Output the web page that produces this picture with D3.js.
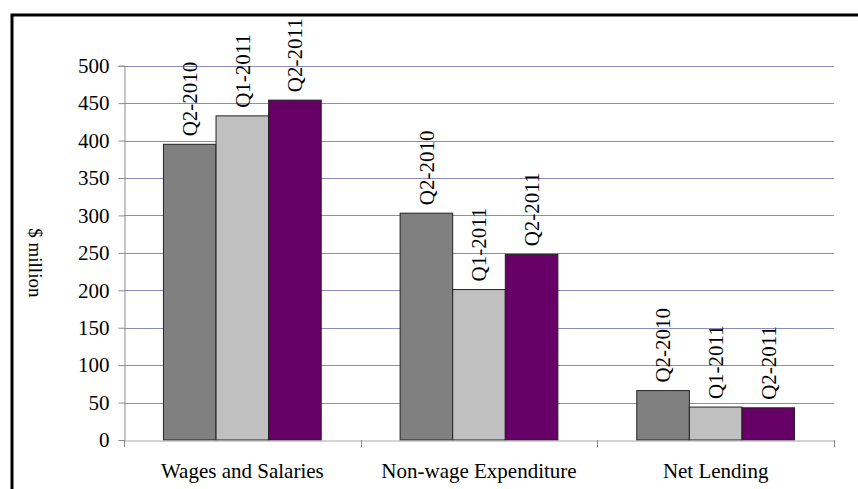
<!DOCTYPE html>
<html>
<head>
<meta charset="utf-8">
<script src="https://cdn.jsdelivr.net/npm/d3@7"></script>
<style>
  html, body { margin: 0; padding: 0; background: #fff; }
  svg { display: block; }
</style>
</head>
<body>
<svg id="chart" width="858" height="489"></svg>
<script>
// Expenditure categories and quarterly series ($ million)
const categories = ["Wages and Salaries", "Non-wage Expenditure", "Net Lending"];
const seriesNames = ["Q2-2010", "Q1-2011", "Q2-2011"];
const q2_2010 = [395, 303, 66];
const q1_2011 = [433, 201, 44];
const q2_2011 = [454, 248, 43];
const seriesValues = [q2_2010, q1_2011, q2_2011];
const yTicks = [0, 50, 100, 150, 200, 250, 300, 350, 400, 450, 500];
const yTitle = "$ million";

const colors = ["#808080", "#C0C0C0", "#660066"];
const FONT = "'Liberation Serif', 'Times New Roman', serif";
const fontSize = 21;

const svg = d3.select("#chart");
const W = 858, H = 489;
const plot = { left: 124, right: 834, top: 65.7, bottom: 440 };

// Outer frame (runs off the right and bottom edges)
svg.append("path")
  .attr("d", `M12,${H + 5} V15 H${W + 5}`)
  .attr("fill", "none")
  .attr("stroke", "#000")
  .attr("stroke-width", 3);

const y = d3.scaleLinear().domain([0, 500]).range([plot.bottom, plot.top]);
const x0 = d3.scaleBand().domain(categories).range([plot.left, plot.right]).paddingInner(0).paddingOuter(0);
const x1 = d3.scaleBand().domain(seriesNames).range([0, x0.bandwidth()]).paddingInner(0).paddingOuter(0.75);

// Horizontal gridlines
svg.append("g")
  .selectAll("line")
  .data(yTicks.filter(d => d > 0))
  .join("line")
  .attr("x1", plot.left).attr("x2", plot.right)
  .attr("y1", d => Math.round(y(d)) + 0.5).attr("y2", d => Math.round(y(d)) + 0.5)
  .attr("stroke", "#8C8CBC")
  .attr("stroke-width", 1);

// Bars
const groups = svg.append("g")
  .selectAll("g")
  .data(categories)
  .join("g")
  .attr("transform", d => `translate(${x0(d)},0)`);

const barData = (c, ci) => seriesNames.map((s, si) => ({ series: s, si, value: seriesValues[si][ci] }));

groups.selectAll("rect")
  .data((c, ci) => barData(c, ci))
  .join("rect")
  .attr("x", d => x1(d.series))
  .attr("y", d => y(d.value))
  .attr("width", x1.bandwidth())
  .attr("height", d => plot.bottom - y(d.value))
  .attr("fill", d => colors[d.si])
  .attr("stroke", "#222")
  .attr("stroke-width", 1);

// Series labels above each bar
groups.selectAll("text")
  .data((c, ci) => barData(c, ci))
  .join("text")
  .attr("transform", d => `translate(${x1(d.series) + x1.bandwidth() / 2},${y(d.value) - 8}) rotate(-90)`)
  .attr("dy", "0.35em")
  .attr("text-anchor", "start")
  .style("font-family", FONT)
  .style("font-size", fontSize + "px")
  .attr("fill", "#000")
  .text(d => d.series);

// Y axis
const yAxis = svg.append("g")
  .attr("transform", `translate(${plot.left + 0.5},0)`)
  .call(d3.axisLeft(y).tickValues(yTicks).tickSize(6).tickPadding(9).tickFormat(d3.format("d")));
yAxis.select(".domain").attr("stroke", "#8C8C8C");
yAxis.selectAll(".tick line").attr("stroke", "#8C8C8C");
yAxis.selectAll(".tick text")
  .style("font-family", FONT)
  .style("font-size", fontSize + "px")
  .attr("fill", "#000");

// X axis
const xAxis = svg.append("g")
  .attr("transform", `translate(0,${plot.bottom + 0.5})`)
  .call(d3.axisBottom(x0).tickSize(0).tickPadding(23));
xAxis.select(".domain").attr("stroke", "#A8A8A8");
xAxis.selectAll(".tick text")
  .style("font-family", FONT)
  .style("font-size", fontSize + "px")
  .attr("fill", "#000");

// Category separator ticks
const sepTicks = categories.map(c => x0(c)).concat([plot.right]);
svg.append("g")
  .selectAll("line")
  .data(sepTicks)
  .join("line")
  .attr("x1", d => Math.round(d) + 0.5).attr("x2", d => Math.round(d) + 0.5)
  .attr("y1", plot.bottom).attr("y2", plot.bottom + 7)
  .attr("stroke", "#8C8C8C");

// Y axis title
svg.append("text")
  .attr("transform", `translate(36,${(plot.top + plot.bottom) / 2 + 10}) rotate(90)`)
  .attr("text-anchor", "middle")
  .attr("dy", "0.35em")
  .style("font-family", FONT)
  .style("font-size", (fontSize - 2) + "px")
  .attr("fill", "#000")
  .text(yTitle);
</script>
</body>
</html>
